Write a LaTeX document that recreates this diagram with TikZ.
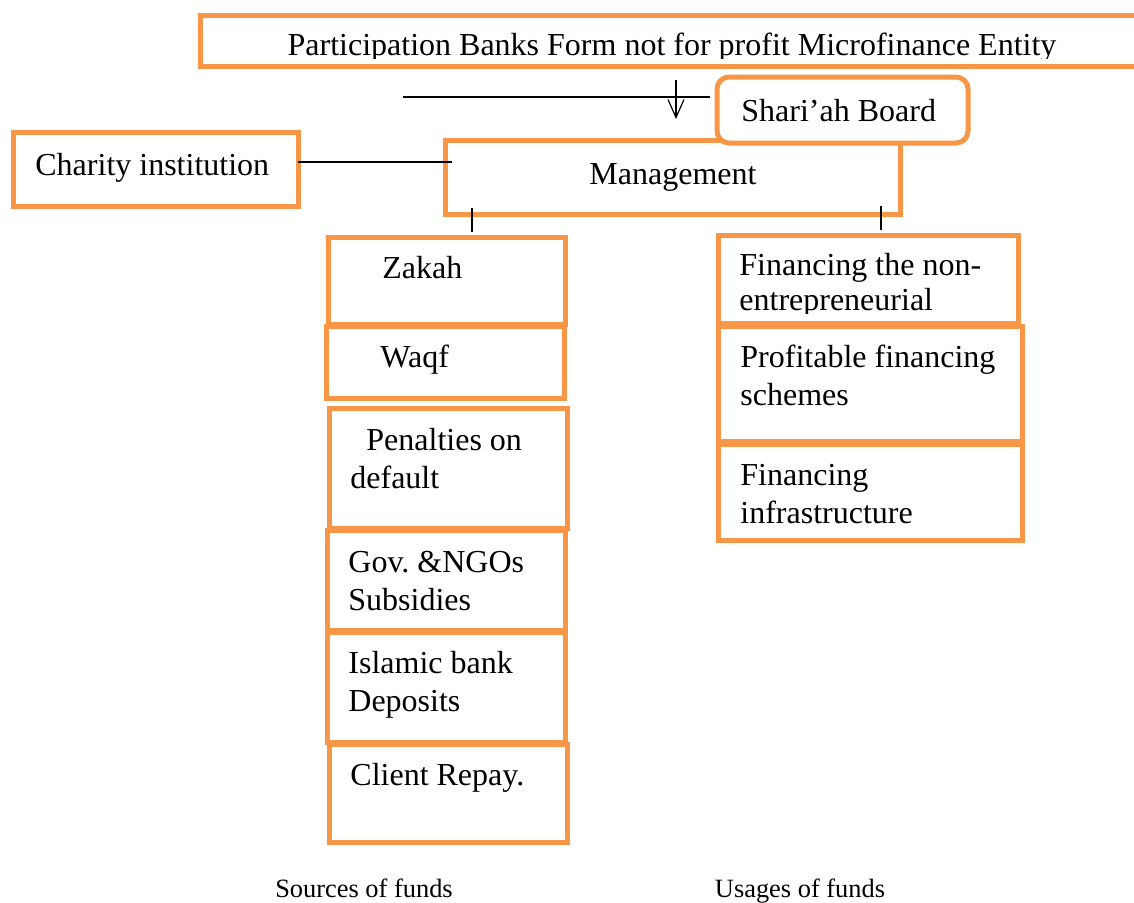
\documentclass[tikz,border=0pt]{standalone}
\usepackage{fontspec}
\setmainfont{Liberation Serif}
\usetikzlibrary{arrows.meta}
\definecolor{boxorange}{RGB}{247,150,70}

\tikzset{
  fundbox/.style={draw=boxorange, line width=2.5pt, inner sep=0pt, outer sep=0pt, anchor=north west},
  fundtext/.style={inner sep=0pt, anchor=base west, font=\fontsize{16}{19}\selectfont},
  fundcaption/.style={inner sep=0pt, anchor=base, font=\fontsize{13.2}{16}\selectfont},
  link/.style={line width=0.75pt},
  linkarrow/.style={line width=0.6pt, -{Straight Barb[length=9pt,width=8pt]}}
}

\begin{document}
\begin{tikzpicture}[x=0.5pt,y=-0.5pt]
  \useasboundingbox (0,0) rectangle (1134,902);
  \clip (0,0) rectangle (1134,902);

  % frames
  \node[fundbox, minimum width=470pt, minimum height=25.5pt] (entity) at (200,15) {};
  \node[fundbox, minimum width=227.5pt, minimum height=37pt] (mgmt) at (445,140) {};
  \node[fundbox, rounded corners=6pt, fill=white, minimum width=125.5pt, minimum height=33pt] (shariah) at (717,77) {};
  \node[fundbox, minimum width=142.5pt, minimum height=37pt] (charity) at (13,132) {};

  % sources of funds
  \node[fundbox, minimum width=118.5pt, minimum height=43.5pt] (zakah) at (328,237) {};
  \node[fundbox, minimum width=119pt, minimum height=36pt] (waqf) at (326,326) {};
  \node[fundbox, minimum width=119pt, minimum height=60pt] (penalty) at (329,408) {};
  \node[fundbox, minimum width=119pt, minimum height=50pt] (subsidy) at (327,530) {};
  \node[fundbox, minimum width=119pt, minimum height=55pt] (deposit) at (327,632) {};
  \node[fundbox, minimum width=119pt, minimum height=49pt] (repay) at (329,744) {};

  % usages of funds
  \node[fundbox, minimum width=150pt, minimum height=44pt] (nonentre) at (718,235) {};
  \node[fundbox, minimum width=152pt, minimum height=57.5pt] (profit) at (718,326) {};
  \node[fundbox, minimum width=152pt, minimum height=48pt] (infra) at (718,444) {};

  % texts
  \begin{scope}
    \clip (200,15) rectangle (1140,58);
    \node[fundtext, anchor=base] (entitytxt) at (672,55) {Participation Banks Form not for profit Microfinance Entity};
  \end{scope}
  \node[fundtext] (shariahtxt) at (741,121) {Shari’ah Board};
  \node[fundtext] (charitytxt) at (35,175) {Charity institution};
  \node[fundtext, anchor=base] (mgmttxt) at (673,184) {Management};

  \node[fundtext] (zakahtxt) at (382,278) {Zakah};
  \node[fundtext] (waqftxt) at (380,367) {Waqf};
  \node[fundtext] (penaltytxt) at (350,450) {
    \begin{minipage}[t]{120pt}
      \raggedright
      \hspace*{8pt}Penalties on\\default
    \end{minipage}
  };
  \node[fundtext] (subsidytxt) at (348,572) {
    \begin{minipage}[t]{120pt}
      \raggedright
      Gov.\ \&NGOs\\Subsidies
    \end{minipage}
  };
  \node[fundtext] (deposittxt) at (348,673) {
    \begin{minipage}[t]{120pt}
      \raggedright
      Islamic bank\\Deposits
    \end{minipage}
  };
  \node[fundtext] (repaytxt) at (350,785) {Client Repay.};

  \begin{scope}
    \clip (718,235) rectangle (1018,313);
    \node[fundtext] (nonentretxt) at (739,275) {
      \begin{minipage}[t]{150pt}
        \raggedright
        Financing the non-\\[-1.5pt]entrepreneurial
      \end{minipage}
    };
  \end{scope}
  \node[fundtext] (profittxt) at (740,367) {
    \begin{minipage}[t]{150pt}
      \raggedright
      Profitable financing\\schemes
    \end{minipage}
  };
  \node[fundtext] (infratxt) at (740,485) {
    \begin{minipage}[t]{150pt}
      \raggedright
      Financing\\infrastructure
    \end{minipage}
  };

  \node[fundcaption] (sourcescap) at (364,897) {Sources of funds};
  \node[fundcaption] (usagescap) at (800,897) {Usages of funds};

  % connectors
  \coordinate (boardfeed) at (403,97);
  \coordinate (entitydrop) at (676,0);
  \draw[link] (boardfeed) -- ([xshift=-3.5pt]boardfeed -| shariah.west);
  \draw[linkarrow] ([yshift=-7pt]entity.south -| entitydrop) -- ([yshift=10.5pt]mgmt.north -| entitydrop);
  \draw[link] ([yshift=3.5pt]charity.east) -- ([xshift=3.5pt,yshift=3.5pt]charity.east -| mgmt.west);
  \draw[link] ([xshift=13.5pt,yshift=3pt]mgmt.south west) -- ([xshift=72pt,yshift=2.5pt]zakah.north west);
  \draw[link] ([xshift=-9.5pt,yshift=4pt]mgmt.south east) -- ([xshift=81.5pt,yshift=2.5pt]nonentre.north west);
\end{tikzpicture}
\end{document}
